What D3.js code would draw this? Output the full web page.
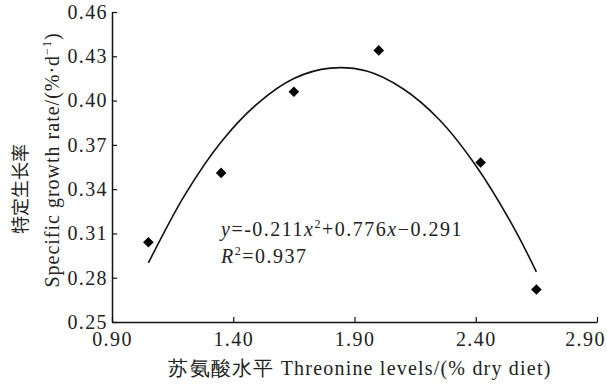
<!DOCTYPE html>
<html>
<head>
<meta charset="utf-8">
<script src="https://cdn.jsdelivr.net/npm/d3@7"></script>
<style>
  html, body { margin: 0; padding: 0; background: #fff; }
  svg text { font-family: "Liberation Serif", "Times New Roman", serif; fill: #222; }
</style>
</head>
<body>
<svg id="chart" width="607" height="385"></svg>
<script>
// Observed data points
const threonine = [1.05, 1.35, 1.65, 2.00, 2.42, 2.65];
const sgr = [0.304, 0.351, 0.406, 0.434, 0.358, 0.272];

// Fitted curve
const curveX = [1.05, 1.20, 1.35, 1.50, 1.65, 1.80, 1.95, 2.10, 2.25, 2.40, 2.55, 2.65];
const curveY = [0.290, 0.336, 0.372, 0.398, 0.415, 0.422, 0.420, 0.408, 0.387, 0.356, 0.316, 0.284];

// Tick labels
const xTicks = [0.90, 1.40, 1.90, 2.40, 2.90];
const yTicks = [0.25, 0.28, 0.31, 0.34, 0.37, 0.40, 0.43, 0.46];

const svg = d3.select("#chart");
const mLeft = 112, mRight = 597, mTop = 12, mBottom = 322;

const x = d3.scaleLinear().domain([0.90, 2.90]).range([mLeft, mRight]);
const y = d3.scaleLinear().domain([0.25, 0.46]).range([mBottom, mTop]);

const serif = "'Liberation Serif', 'Times New Roman', serif";

// Axes
const xAxis = d3.axisBottom(x).tickValues(xTicks).tickSizeInner(-5).tickSizeOuter(0)
  .tickPadding(10).tickFormat(d3.format(".2f"));
const yAxis = d3.axisLeft(y).tickValues(yTicks).tickSizeInner(-5).tickSizeOuter(0)
  .tickPadding(4).tickFormat(d3.format(".2f"));

const gx = svg.append("g").attr("transform", `translate(0,${mBottom})`).call(xAxis);
const gy = svg.append("g").attr("transform", `translate(${mLeft},0)`).call(yAxis);

[gx, gy].forEach(g => {
  g.attr("font-family", null).attr("font-size", null);
  g.select(".domain").attr("stroke", "#111").attr("stroke-width", 1.5);
  g.selectAll(".tick line").attr("stroke", "#111").attr("stroke-width", 1.2);
  g.selectAll(".tick text")
    .style("font-size", "20px")
    .style("font-family", serif)
    .style("letter-spacing", "1.4px")
    .attr("fill", "#222");
});
gx.selectAll(".tick text").attr("dy", "0.71em");
gx.selectAll(".tick text").filter(d => d === xTicks[xTicks.length - 1]).attr("dx", -12);

// Fitted curve
const pts = curveX.map((d, i) => [d, curveY[i]]);
svg.append("path")
  .datum(pts)
  .attr("fill", "none")
  .attr("stroke", "#111")
  .attr("stroke-width", 1.6)
  .attr("d", d3.line().x(d => x(d[0])).y(d => y(d[1])).curve(d3.curveCatmullRom.alpha(0.5)));

// Diamond markers
const sym = d3.symbol().type(d3.symbolSquare).size(56);
svg.selectAll("path.pt")
  .data(threonine.map((d, i) => [d, sgr[i]]))
  .join("path")
  .attr("class", "pt")
  .attr("d", sym)
  .attr("fill", "#000")
  .attr("transform", d => `translate(${x(d[0])},${y(d[1])}) rotate(45)`);

// Equation text
const eq = svg.append("text").attr("x", 221).attr("y", 236)
  .style("font-size", "20px").style("letter-spacing", "1.5px");
eq.append("tspan").attr("font-style", "italic").text("y");
eq.append("tspan").text("=-0.211");
eq.append("tspan").attr("font-style", "italic").text("x");
eq.append("tspan").style("font-size", "12px").attr("dy", -8).text("2");
eq.append("tspan").attr("dy", 8).text("+0.776");
eq.append("tspan").attr("font-style", "italic").text("x");
eq.append("tspan").text("\u22120.291");

const r2 = svg.append("text").attr("x", 221).attr("y", 263)
  .style("font-size", "20px").style("letter-spacing", "1.5px");
r2.append("tspan").attr("font-style", "italic").text("R");
r2.append("tspan").style("font-size", "12px").attr("dy", -8).text("2");
r2.append("tspan").attr("dy", 8).text("=0.937");

// Axis titles
svg.append("text")
  .attr("x", 360).attr("y", 375)
  .attr("text-anchor", "middle")
  .style("font-size", "20px")
  .style("letter-spacing", "1.2px")
  .text("苏氨酸水平 Threonine levels/(% dry diet)");

const yl = svg.append("text")
  .attr("transform", "translate(59,160) rotate(-90)")
  .attr("text-anchor", "middle")
  .style("font-size", "20px")
  .style("letter-spacing", "1px");
yl.append("tspan").text("Specific growth rate/(%\u00b7d");
yl.append("tspan").style("font-size", "12px").attr("dy", -8).text("\u22121");
yl.append("tspan").attr("dy", 8).text(")");

svg.append("text")
  .attr("transform", "translate(27,189) rotate(-90)")
  .attr("text-anchor", "middle")
  .style("font-size", "18px")
  .style("font-family", "'Noto Sans CJK SC', sans-serif")
  .text("特定生长率");
</script>
</body>
</html>
